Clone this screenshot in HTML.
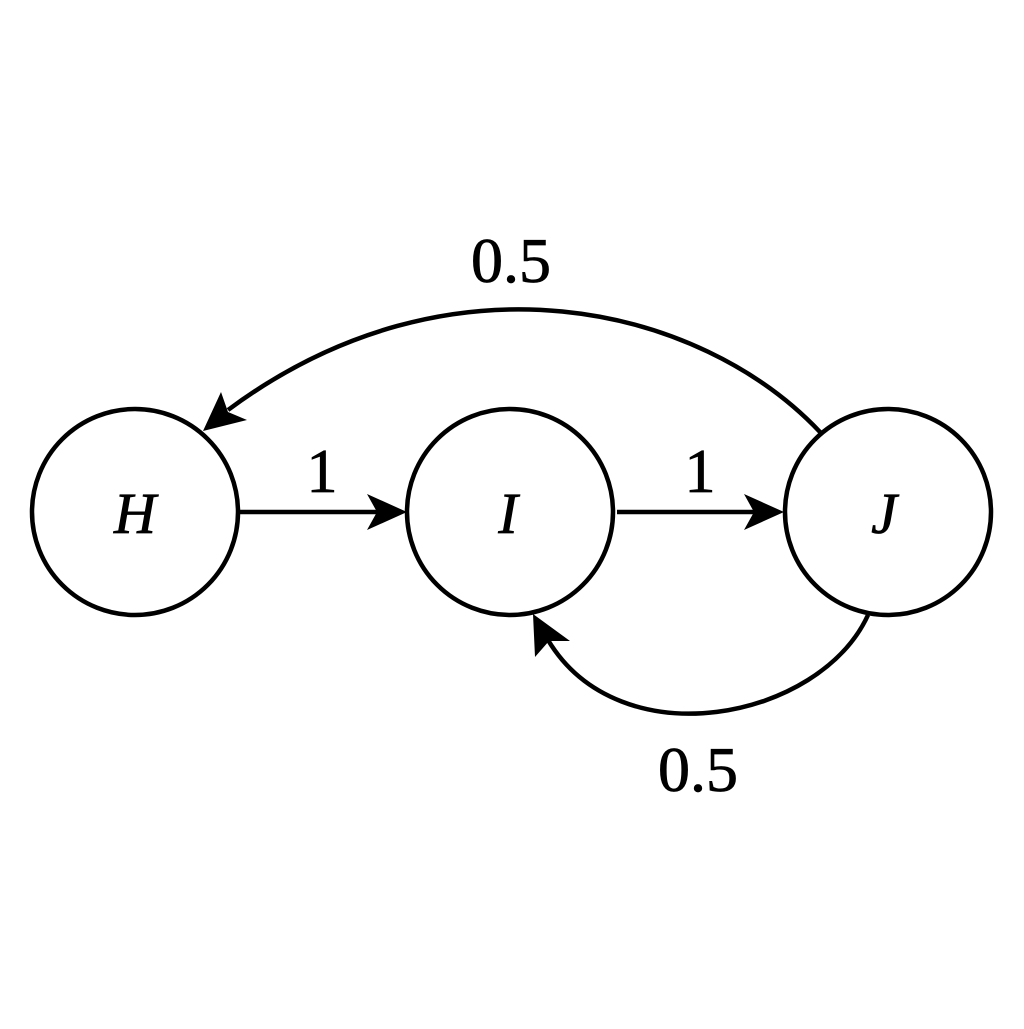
<!DOCTYPE html>
<html><head><style>html,body{margin:0;padding:0;background:#fff}</style></head>
<body>
<svg width="1024" height="1024" viewBox="0 0 1024 1024" xmlns="http://www.w3.org/2000/svg">
<rect width="1024" height="1024" fill="#fff"/>
<g fill="none" stroke="#000" stroke-width="4.5">
<circle cx="135" cy="512" r="103"/>
<circle cx="510" cy="512" r="103"/>
<circle cx="888" cy="512" r="103"/>
<line x1="240" y1="512" x2="380" y2="512"/>
<line x1="617" y1="512" x2="757" y2="512"/>
<path d="M820,432 C700,305 450,245 228,410"/>
<path d="M868,615 C820,720 620,760 548,640"/>
</g>
<g fill="#000">
<path d="M407,512 L367,494 L377,512 L367,530 Z"/>
<path d="M784,512 L744,494 L754,512 L744,530 Z"/>
<path d="M203,431 L221,392 L228,412 L247,420 Z"/>
<path d="M533,614 L535,657 L549,641 L570,641 Z"/>
</g>
<g font-family="'Liberation Serif',serif" text-anchor="middle" stroke="#000" stroke-width="0.8">
<text x="135" y="533" font-size="58" font-style="italic">H</text>
<text x="508" y="533" font-size="58" font-style="italic">I</text>
<text x="884" y="533" font-size="58" font-style="italic">J</text>
<text x="322" y="492" font-size="62">1</text>
<text x="700" y="492" font-size="62">1</text>
<text x="511" y="282" font-size="64">0.5</text>
<text x="698" y="791" font-size="64">0.5</text>
</g>
</svg>
</body></html>
